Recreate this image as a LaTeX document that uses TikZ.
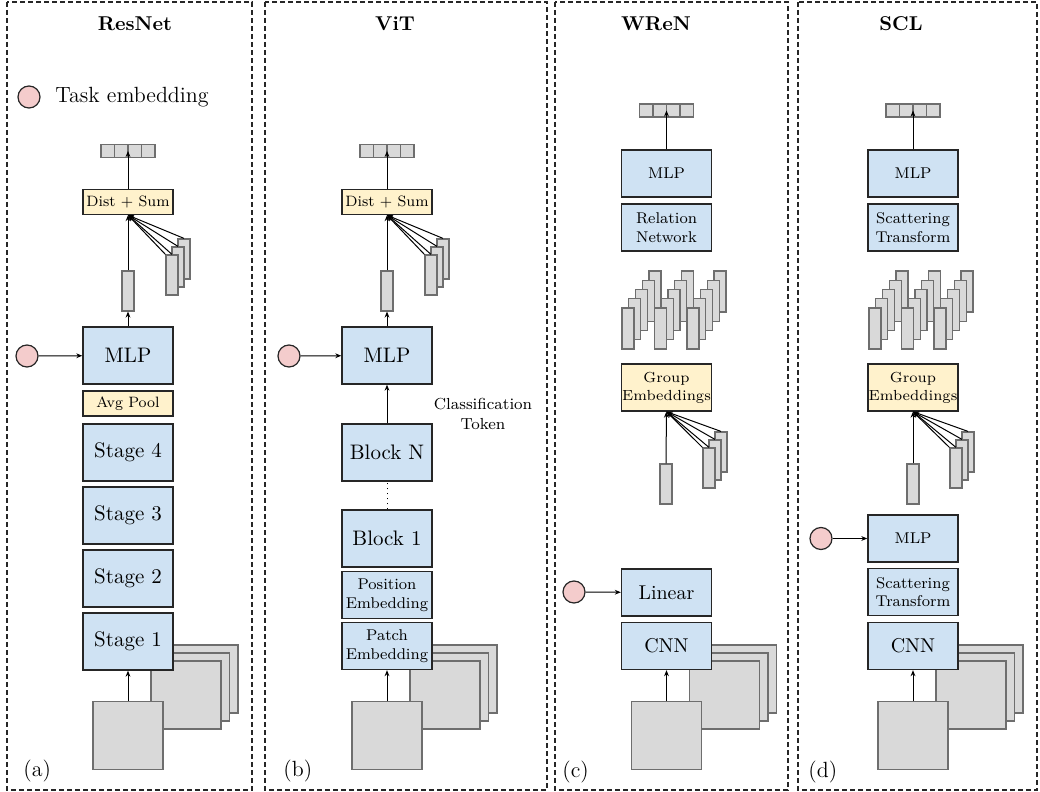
\documentclass[tikz,border=0pt]{standalone}
\usepackage{amsmath}
\usepackage{tikz}
\usetikzlibrary{arrows.meta}

\definecolor{blockblue}{HTML}{CFE2F3}
\definecolor{blockyellow}{HTML}{FFF2CC}
\definecolor{cellgray}{HTML}{D9D9D9}
\definecolor{edgegray}{HTML}{6E6E6E}
\definecolor{taskpink}{HTML}{F4CCCC}

\tikzset{
	panel/.style={draw=black!85, dash pattern=on 2.5pt off 1.5pt, line width=0.6pt},
	title/.style={font=\fontsize{10}{12}\selectfont\bfseries, inner sep=0pt},
	tag/.style={font=\fontsize{11}{13}\selectfont, inner sep=0pt, anchor=west},
	note/.style={font=\fontsize{8}{10}\selectfont, inner sep=0pt, align=center},
	block/.style={draw=black!85, line width=0.7pt, fill=blockblue, minimum width=45pt, inner sep=0pt, align=center},
	bigblock/.style={block, minimum height=28.5pt, font=\fontsize{10.5}{12}\selectfont},
	midblock/.style={block, minimum height=23.5pt, font=\fontsize{10}{12}\selectfont},
	smallblock/.style={block, minimum height=23.5pt, font=\fontsize{7.8}{9.4}\selectfont},
	poolbox/.style={block, fill=blockyellow, minimum height=12.5pt, font=\fontsize{7.5}{9}\selectfont},
	embbox/.style={block, fill=blockyellow, minimum height=23.5pt, font=\fontsize{7.3}{9}\selectfont},
	grayshape/.style={draw=edgegray, fill=cellgray, line width=0.6pt, inner sep=0pt},
	vecbox/.style={grayshape, minimum width=27pt, minimum height=6.5pt,
		path picture={\foreach \i in {1,2,3}{\draw [edgegray, line width=0.6pt] ([xshift=\i*6.75pt]path picture bounding box.south west) -- ([xshift=\i*6.75pt]path picture bounding box.north west);}}},
	featrect/.style={grayshape, minimum width=6pt, minimum height=20pt},
	grprect/.style={grayshape, minimum width=6pt, minimum height=20.5pt},
	imgsq/.style={grayshape, minimum width=35pt, minimum height=34pt},
	taskdot/.style={circle, draw=black!85, line width=0.6pt, fill=taskpink, minimum size=11pt, inner sep=0pt},
	arr/.style={-{Stealth[length=3pt,width=2.4pt]}, line width=0.5pt},
}

\begin{document}
\begin{tikzpicture}[x=0.5pt,y=-0.5pt]
	\useasboundingbox (0,0) rectangle (1040,792);

	%Panel frames
	\draw [panel] (7,2) rectangle (252,790);
	\draw [panel] (265,2) rectangle (547,790);
	\draw [panel] (555,2) rectangle (788,790);
	\draw [panel] (798,2) rectangle (1037,790);

	%Panel (a): ResNet
	\node [title] (a-ttl) at (135,24) {ResNet};
	\node [taskdot] (leg-dot) at (29,97) {};
	\node [anchor=west, inner sep=0pt, font=\fontsize{11}{13}\selectfont] (leg-txt) at (55,97) {Task embedding};
	%input images
	\node [imgsq] (a-img3) at (203,679) {};
	\node [imgsq] (a-img2) at (194.5,687) {};
	\node [imgsq] (a-img1) at (186,695) {};
	\node [imgsq] (a-img) at (128,735.5) {};
	%stages
	\node [bigblock] (a-s1) at (128,641.5) {Stage 1};
	\node [bigblock] (a-s2) at (128,578.5) {Stage 2};
	\node [bigblock] (a-s3) at (128,515.5) {Stage 3};
	\node [bigblock] (a-s4) at (128,452.5) {Stage 4};
	\node [poolbox] (a-pool) at (128,403.5) {Avg Pool};
	\node [bigblock] (a-mlp) at (128,355.5) {MLP};
	\node [taskdot] (a-task) at (27,356) {};
	%features and output
	\node [featrect] (a-f3) at (184,259) {};
	\node [featrect] (a-f2) at (178,267) {};
	\node [featrect] (a-f1) at (172,275) {};
	\node [featrect] (a-feat) at (128,291) {};
	\node [poolbox] (a-dsum) at (128,202) {Dist + Sum};
	\node [vecbox] (a-vec) at (128,151) {};
	\draw [arr] (a-img) -- (a-s1);
	\draw [arr] (a-task) -- (a-mlp);
	\draw [arr] (a-mlp) -- (a-feat);
	\draw [arr] (a-feat) -- (a-dsum);
	\foreach \p in {a-f3.north, a-f2.north, a-f1.north, a-f1.north west}
		\draw [arr] (\p) -- (a-dsum.south);
	\draw [arr] (a-dsum) -- (a-vec.center);
	\node [tag] (a-tag) at (23,771) {(a)};

	%Panel (b): ViT
	\node [title] (b-ttl) at (395,24) {ViT};
	%input images
	\node [imgsq] (b-img3) at (462,679) {};
	\node [imgsq] (b-img2) at (453.5,687) {};
	\node [imgsq] (b-img1) at (445,695) {};
	\node [imgsq] (b-img) at (387,735.5) {};
	%blocks
	\node [smallblock] (b-patch) at (387,646) {Patch\\Embedding};
	\node [smallblock] (b-pos) at (387,595) {Position\\Embedding};
	\node [bigblock] (b-blk1) at (387,538.5) {Block 1};
	\node [bigblock] (b-blkn) at (387,452.5) {Block N};
	\node [bigblock] (b-mlp) at (387,355.5) {MLP};
	\node [taskdot] (b-task) at (289,356) {};
	\node [note] (b-cls) at (483,414) {Classification\\Token};
	%features and output
	\node [featrect] (b-f3) at (443,259) {};
	\node [featrect] (b-f2) at (437,267) {};
	\node [featrect] (b-f1) at (431,275) {};
	\node [featrect] (b-feat) at (387,291) {};
	\node [poolbox] (b-dsum) at (387,202) {Dist + Sum};
	\node [vecbox] (b-vec) at (387,151) {};
	\draw [arr] (b-img) -- (b-patch);
	\draw [dotted, line width=0.5pt] (b-blk1) -- (b-blkn);
	\draw [arr] (b-blkn) -- (b-mlp);
	\draw [arr] (b-task) -- (b-mlp);
	\draw [arr] (b-mlp) -- (b-feat);
	\draw [arr] (b-feat) -- (b-dsum);
	\foreach \p in {b-f3.north, b-f2.north, b-f1.north, b-f1.north west}
		\draw [arr] (\p) -- (b-dsum.south);
	\draw [arr] (b-dsum) -- (b-vec.center);
	\node [tag] (b-tag) at (283,771) {(b)};

	%Panel (c): WReN
	\node [title] (c-ttl) at (656,24) {WReN};
	%input images
	\node [imgsq] (c-img3) at (741.5,679) {};
	\node [imgsq] (c-img2) at (733,687) {};
	\node [imgsq] (c-img1) at (724.5,695) {};
	\node [imgsq] (c-img) at (666.5,735.5) {};
	\node [midblock] (c-cnn) at (666.5,646) {CNN};
	\node [midblock] (c-lin) at (666.5,592.5) {Linear};
	\node [taskdot] (c-task) at (574,592) {};
	%panel embeddings
	\node [featrect] (c-f3) at (721,452) {};
	\node [featrect] (c-f2) at (715,460) {};
	\node [featrect] (c-f1) at (709,468) {};
	\node [featrect] (c-feat) at (666,484) {};
	\node [embbox] (c-gemb) at (666.5,387.5) {Group\\Embeddings};
	%groups
	\foreach \g in {0,1,2}
		\foreach \k in {4,3,2,1,0}
			\node [grprect] (c-g\g\k) at ({628+32.5*\g+6.75*\k},{328.5-9.25*\k}) {};
	\node [smallblock] (c-rel) at (666.5,227.5) {Relation\\Network};
	\node [smallblock] (c-mlp) at (666.5,173.5) {MLP};
	\node [vecbox] (c-vec) at (666.5,110.5) {};
	\draw [arr] (c-img) -- (c-cnn);
	\draw [arr] (c-task) -- (c-lin);
	\draw [arr] (c-feat) -- (c-gemb);
	\foreach \p in {c-f3.north, c-f2.north, c-f1.north, c-f1.north west}
		\draw [arr] (\p) -- (c-gemb.south);
	\draw [arr] (c-mlp) -- (c-vec.center);
	\node [tag] (c-tag) at (562,772) {(c)};

	%Panel (d): SCL
	\node [title] (d-ttl) at (901,24) {SCL};
	%input images
	\node [imgsq] (d-img3) at (988,679) {};
	\node [imgsq] (d-img2) at (979.5,687) {};
	\node [imgsq] (d-img1) at (971,695) {};
	\node [imgsq] (d-img) at (913,735.5) {};
	\node [midblock] (d-cnn) at (913,646) {CNN};
	\node [smallblock] (d-scat1) at (913,592) {Scattering\\Transform};
	\node [smallblock] (d-mlp1) at (913,538.5) {MLP};
	\node [taskdot] (d-task) at (821,538.5) {};
	%panel embeddings
	\node [featrect] (d-f3) at (968,452) {};
	\node [featrect] (d-f2) at (962,460) {};
	\node [featrect] (d-f1) at (956,468) {};
	\node [featrect] (d-feat) at (913,484) {};
	\node [embbox] (d-gemb) at (913,387.5) {Group\\Embeddings};
	%groups
	\foreach \g in {0,1,2}
		\foreach \k in {4,3,2,1,0}
			\node [grprect] (d-g\g\k) at ({875+32.5*\g+6.75*\k},{328.5-9.25*\k}) {};
	\node [smallblock] (d-scat2) at (913,227.5) {Scattering\\Transform};
	\node [smallblock] (d-mlp2) at (913,173.5) {MLP};
	\node [vecbox] (d-vec) at (913,110.5) {};
	\draw [arr] (d-img) -- (d-cnn);
	\draw [arr] (d-task) -- (d-mlp1);
	\draw [arr] (d-feat) -- (d-gemb);
	\foreach \p in {d-f3.north, d-f2.north, d-f1.north, d-f1.north west}
		\draw [arr] (\p) -- (d-gemb.south);
	\draw [arr] (d-mlp2) -- (d-vec.center);
	\node [tag] (d-tag) at (808,772) {(d)};
\end{tikzpicture}
\end{document}
